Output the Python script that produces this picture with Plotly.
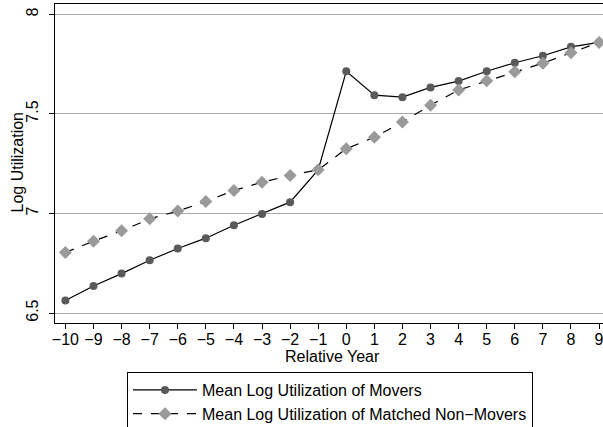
import plotly.graph_objects as go

years = list(range(-10, 10))
movers = [6.563, 6.636, 6.698, 6.765, 6.824, 6.876, 6.941, 6.997, 7.057, 7.219,
          7.714, 7.594, 7.584, 7.633, 7.665, 7.714, 7.757, 7.792, 7.837, 7.859]
non_movers = [6.804, 6.861, 6.913, 6.973, 7.012, 7.060, 7.116, 7.157, 7.191, 7.219,
              7.325, 7.383, 7.459, 7.544, 7.620, 7.666, 7.712, 7.755, 7.807, 7.859]
y_ticks = [6.5, 7, 7.5, 8]
y_tick_labels = ["6.5", "7", "7.5", "8"]

FONT = "Liberation Sans, Arial, sans-serif"
W, H = 603, 427
L, R, T, B = 55, 0, 4, 104

fig = go.Figure()
fig.add_trace(go.Scatter(
    x=years, y=movers, mode="lines+markers",
    name="Mean Log Utilization of Movers",
    line=dict(color="black", width=1.2),
    marker=dict(symbol="circle", size=8, color="#5a5a5a"),
))
fig.add_trace(go.Scatter(
    x=years, y=non_movers, mode="lines+markers",
    name="Mean Log Utilization of Matched Non\u2212Movers",
    line=dict(color="black", width=1.2, dash="dash"),
    marker=dict(symbol="diamond", size=10, color="#9a9a9a"),
))

pw = W - L - R
ph = H - T - B

def px_to_paper(xp, yp):
    return (xp - L) / pw, (H - B - yp) / ph

tx, ty = px_to_paper(332, 357)
yx, yy = px_to_paper(17, 162.5)

fig.update_layout(
    width=W, height=H,
    margin=dict(l=L, r=R, t=T, b=B, autoexpand=False),
    paper_bgcolor="white", plot_bgcolor="white",
    font=dict(family=FONT, size=16, color="black"),
    showlegend=True,
    legend=dict(
        xref="container", yref="container",
        x=127 / W, xanchor="left", y=1 - 372 / H, yanchor="top",
        bordercolor="black", borderwidth=1, bgcolor="white",
        font=dict(size=16), tracegroupgap=0, itemwidth=64,
    ),
    annotations=[
        dict(text="Relative Year", x=tx, y=ty, xref="paper", yref="paper",
             xanchor="center", yanchor="middle", showarrow=False, font=dict(size=16)),
        dict(text="Log Utilization", x=yx, y=yy, xref="paper", yref="paper",
             xanchor="center", yanchor="middle", showarrow=False, textangle=-90,
             font=dict(size=16)),
    ],
)
fig.update_xaxes(
    range=[-10.37, 9.14], tickmode="array", tickvals=years,
    ticks="outside", ticklen=5, tickcolor="black",
    showline=True, linecolor="black", linewidth=1, mirror=True,
    showgrid=False, zeroline=False, automargin=False,
    tickfont=dict(size=16), ticklabeloverflow="allow", ticklabelstandoff=-3,
)
fig.update_yaxes(
    range=[6.45, 8.052], tickmode="array", tickvals=y_ticks, ticktext=y_tick_labels,
    tickangle=-90, ticks="outside", ticklen=5, tickcolor="black",
    showline=True, linecolor="black", linewidth=1,
    showgrid=True, gridcolor="#aaaaaa", gridwidth=1, zeroline=False, automargin=False,
    tickfont=dict(size=16), ticklabelstandoff=5,
)

fig.write_html("out.html", config={"displayModeBar": False},
               post_script="document.body.style.margin='0';")
